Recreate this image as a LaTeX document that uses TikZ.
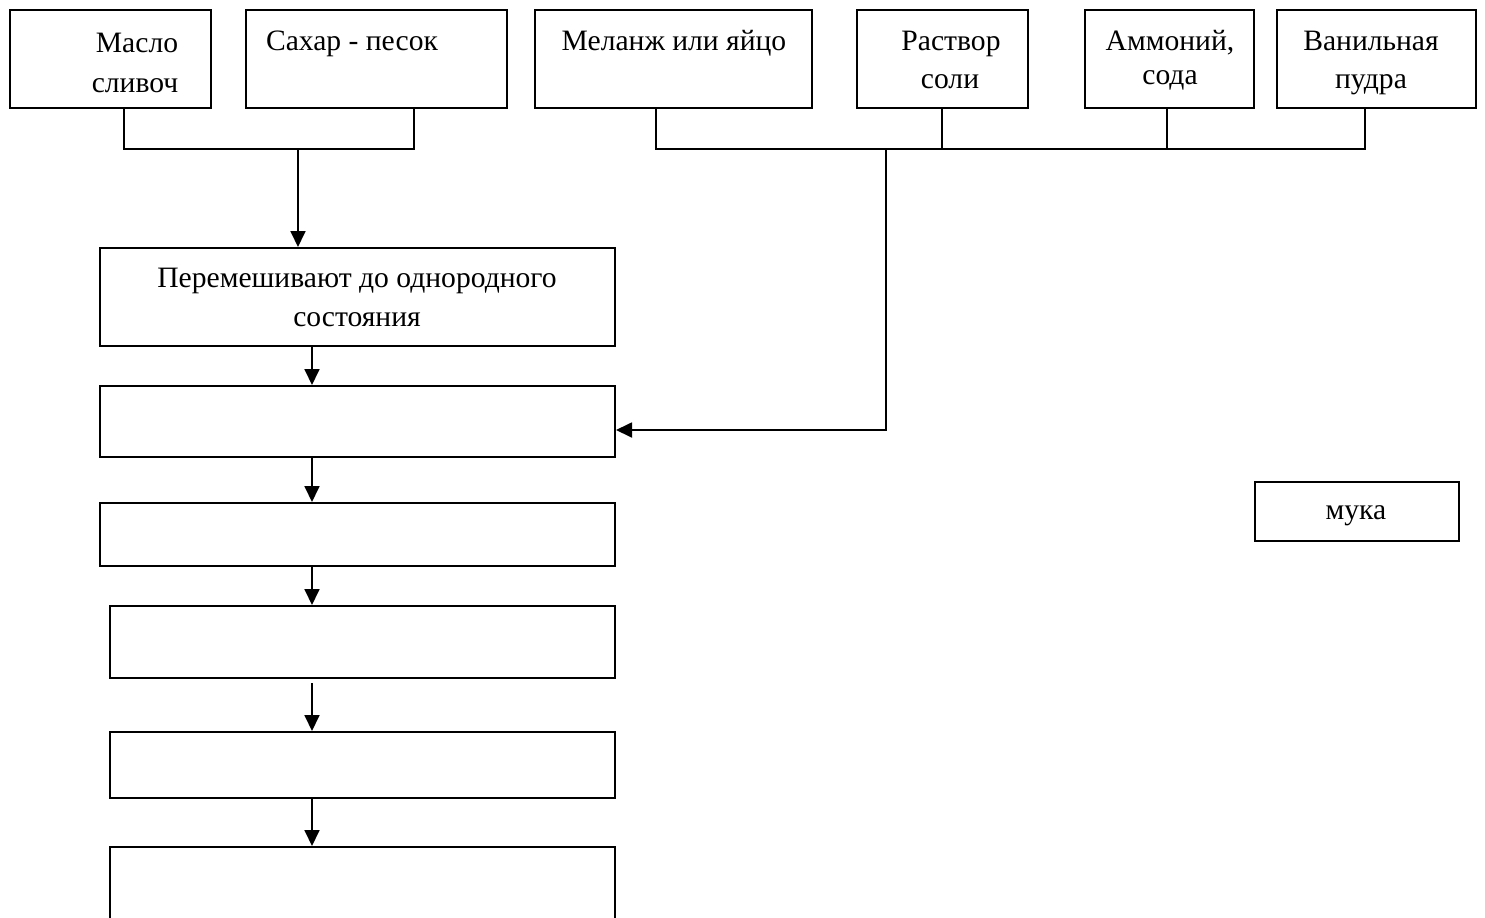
\documentclass[tikz,border=0pt]{standalone}
\usepackage{fontspec}
\setmainfont{Liberation Serif}
\usetikzlibrary{arrows.meta}
\begin{document}
\begin{tikzpicture}[x=0.5pt,y=-0.5pt,
  box/.style={draw,line width=1pt,inner sep=0pt,anchor=center},
  lbl/.style={inner sep=0pt,font=\fontsize{14.8pt}{17pt}\selectfont,anchor=base},
  link/.style={line width=0.75pt},
  flow/.style={line width=0.9pt,-{Triangle[length=8pt,width=7.5pt]}}]
\useasboundingbox (0,0) rectangle (1485,917);
\clip (0,0) rectangle (1485,917);

% ingredient boxes
\node[box,minimum width=100.5pt,minimum height=49pt] (m1) at (110.5,59) {};
\node[box,minimum width=130.5pt,minimum height=49pt] (m2) at (376.5,59) {};
\node[box,minimum width=138.5pt,minimum height=49pt] (m3) at (673.5,59) {};
\node[box,minimum width=85.5pt,minimum height=49pt] (m4) at (942.5,59) {};
\node[box,minimum width=84.5pt,minimum height=49pt] (m5) at (1169.5,59) {};
\node[box,minimum width=99.5pt,minimum height=49pt] (m6) at (1376.5,59) {};

\node[lbl] (t1a) at (137,52) {Масло};
\node[lbl] (t1b) at (135,92) {сливоч};
\node[lbl] (t2) at (352,50) {Сахар - песок};
\node[lbl] (t3) at (674,50) {Меланж или яйцо};
\node[lbl] (t4a) at (951,50) {Раствор};
\node[lbl] (t4b) at (950,88) {соли};
\node[lbl] (t5a) at (1170,50) {Аммоний,};
\node[lbl] (t5b) at (1170,84) {сода};
\node[lbl] (t6a) at (1371,50) {Ванильная};
\node[lbl] (t6b) at (1371,88) {пудра};

% process steps
\node[box,minimum width=257.5pt,minimum height=49pt] (s1) at (357.5,297) {};
\node[lbl] (s1a) at (357,287) {Перемешивают до однородного};
\node[lbl] (s1b) at (357,326) {состояния};
\node[box,minimum width=257.5pt,minimum height=35.5pt] (s2) at (357.5,421.5) {};
\node[box,minimum width=257.5pt,minimum height=31.5pt] (s3) at (357.5,534.5) {};
\node[box,minimum width=252.5pt,minimum height=36pt] (s4) at (362.5,642) {};
\node[box,minimum width=252.5pt,minimum height=33pt] (s5) at (362.5,765) {};
\node[box,minimum width=252.5pt,minimum height=83pt] (s6) at (362.5,930) {};

\node[box,minimum width=102pt,minimum height=29.5pt] (muka) at (1357,511.5) {};
\node[lbl] (mt) at (1356,519) {мука};

% collecting lines
\coordinate (b1) at (124,149);
\coordinate (b2) at (414,149);
\coordinate (bm) at (298,149);
\draw[link] (b1 |- m1.south) -- (b1) -- (b2) -- (b2 |- m2.south);
\draw[flow] (bm) -- (bm |- s1.north);

\coordinate (c3) at (656,149);
\coordinate (c4) at (942,149);
\coordinate (c5) at (1167,149);
\coordinate (c6) at (1365,149);
\coordinate (cm) at (886,149);
\coordinate (cj) at (886,430);
\draw[link] (c3 |- m3.south) -- (c3) -- (c6) -- (c6 |- m6.south);
\draw[link] (c4 |- m4.south) -- (c4);
\draw[link] (c5 |- m5.south) -- (c5);
\draw[flow] (cm) -- (cj) -- (cj -| s2.east);

% step arrows
\coordinate (ax) at (312,0);
\draw[flow] (ax |- s1.south) -- (ax |- s2.north);
\draw[flow] (ax |- s2.south) -- (ax |- s3.north);
\draw[flow] (ax |- s3.south) -- (ax |- s4.north);
\draw[flow] ([yshift=-2pt]ax |- s4.south) -- (ax |- s5.north);
\draw[flow] (ax |- s5.south) -- (ax |- s6.north);
\end{tikzpicture}
\end{document}
